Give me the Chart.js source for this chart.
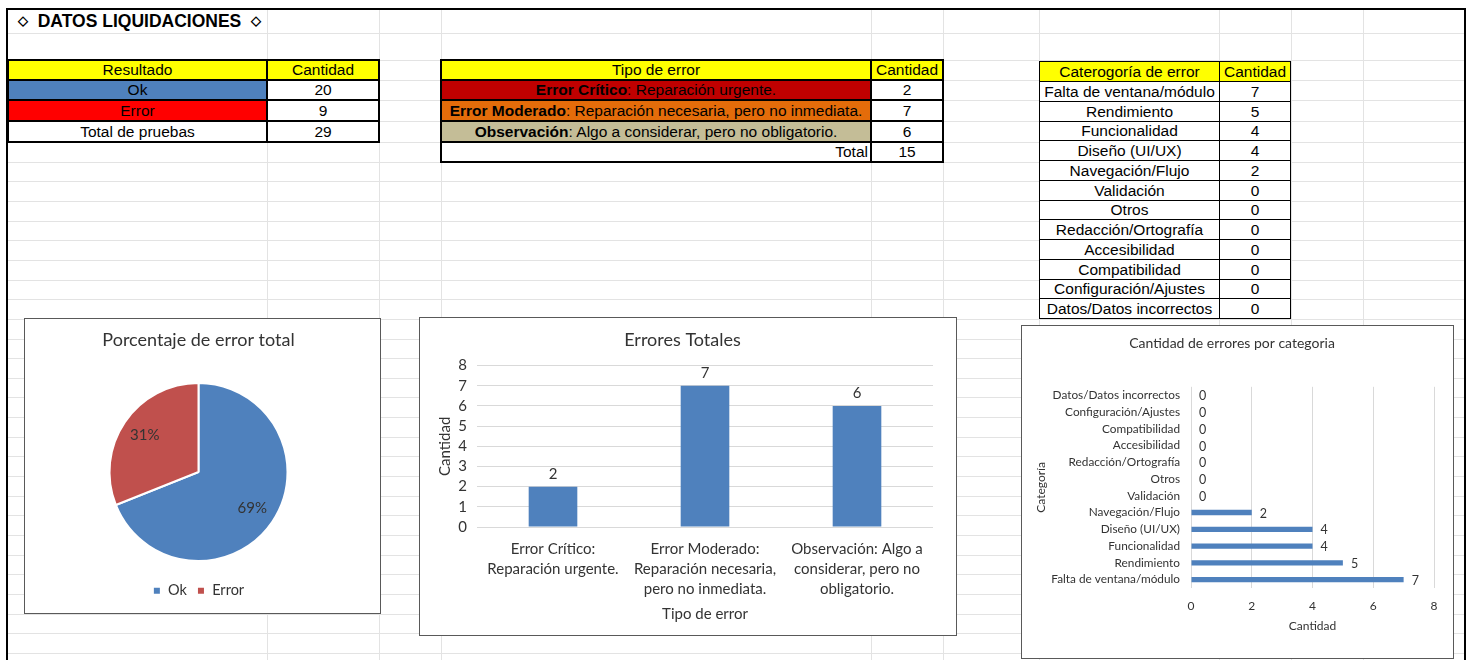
<!DOCTYPE html>
<html>
<head>
<meta charset="utf-8">
<script src="https://cdn.jsdelivr.net/npm/chart.js@4.4.0/dist/chart.umd.min.js"></script>
<style>
body{margin:0;width:1473px;height:660px;overflow:hidden;background:#fff;font-family:"Liberation Sans",Arial,sans-serif;}
#sheet{position:relative;width:1473px;height:660px;overflow:hidden;}
.gl{position:absolute;background:#e3e3e3;}
.c{position:absolute;box-sizing:border-box;border:2px solid #000;font-size:15.5px;line-height:16px;display:flex;align-items:center;justify-content:center;white-space:nowrap;color:#000;}
.thin{border-width:1px;}
.box{position:absolute;box-sizing:border-box;border:1px solid #595959;background:#fff;}
.box canvas{position:absolute;left:0;top:0;}
#frame{position:absolute;left:6px;top:8px;width:1460px;height:700px;box-sizing:border-box;border:2px solid #000;}
#title{position:absolute;left:18px;top:11px;font-weight:bold;font-size:17.5px;}
#title span{font-size:13px;position:relative;top:-2px;}
</style>
</head>
<body>
<div id="sheet">
  <div id="frame"></div>
  <div id="title"><span>◇</span>&nbsp; DATOS LIQUIDACIONES &nbsp;<span>◇</span></div>
  <div class="box" style="left:24px;top:318px;width:357px;height:296px;"><canvas id="pieChart" width="355" height="294"></canvas></div>
  <div class="box" style="left:419px;top:317px;width:538px;height:319px;"><canvas id="barChart" width="536" height="317"></canvas></div>
  <div class="box" style="left:1021px;top:325px;width:433px;height:334px;"><canvas id="catChart" width="431" height="332"></canvas></div>
</div>
<script>
// datos de las tablas
const resultadoLabels = ['Ok', 'Error'];
const resultadoValues = [20, 9];
const resultadoColors = ['#4F81BD', '#FF0000'];

const tipoNombres = ['Error Crítico', 'Error Moderado', 'Observación'];
const tipoTextos = ['Reparación urgente.', 'Reparación necesaria, pero no inmediata.', 'Algo a considerar, pero no obligatorio.'];
const tipoValues = [2, 7, 6];
const tipoColors = ['#C00000', '#E46C0A', '#C4BD97'];
const tipoTicks = [
    ['Error Crítico:', 'Reparación urgente.'],
    ['Error Moderado:', 'Reparación necesaria,', 'pero no inmediata.'],
    ['Observación: Algo a', 'considerar, pero no', 'obligatorio.']
];

const categoriaLabels = ['Falta de ventana/módulo', 'Rendimiento', 'Funcionalidad', 'Diseño (UI/UX)', 'Navegación/Flujo',
    'Validación', 'Otros', 'Redacción/Ortografía', 'Accesibilidad', 'Compatibilidad', 'Configuración/Ajustes', 'Datos/Datos incorrectos'];
const categoriaValues = [7, 5, 4, 4, 2, 0, 0, 0, 0, 0, 0, 0];

const sheet = document.getElementById('sheet');

// lineas de la hoja
let colX = [267, 379, 441, 871, 943, 1039, 1219, 1291, 1363];
let rowY = [33, 60, 80, 100, 121, 142];
for (let k = 1; k <= 27; k++) rowY.push(Math.round(142 + k * 19.65));
colX.forEach((x) => {
    let d = document.createElement('div');
    d.className = 'gl';
    d.style.cssText = `left:${x}px;top:8px;width:1px;height:660px;`;
    sheet.insertBefore(d, sheet.firstChild);
});
rowY.forEach((y) => {
    let d = document.createElement('div');
    d.className = 'gl';
    d.style.cssText = `left:7px;top:${y}px;width:1458px;height:1px;`;
    sheet.insertBefore(d, sheet.firstChild);
});

function cell(x0, y0, x1, y1, html, bg, extra) {
    let d = document.createElement('div');
    d.className = 'c' + (extra && extra.thin ? ' thin' : '');
    let b = extra && extra.thin ? 0 : 1;
    d.style.left = (x0 - b) + 'px';
    d.style.top = (y0 - b) + 'px';
    d.style.width = (x1 - x0 + 2 * b + (b ? 0 : 1)) + 'px';
    d.style.height = (y1 - y0 + 2 * b + (b ? 0 : 1)) + 'px';
    d.style.background = bg || '#fff';
    if (extra && extra.align) { d.style.justifyContent = extra.align; d.style.paddingRight = '2px'; }
    d.innerHTML = html;
    sheet.appendChild(d);
}

// tabla 1
const t1Rows = [60, 80, 100, 121, 142];
cell(8, 60, 267, 80, 'Resultado', '#FFFF00');
cell(267, 60, 379, 80, 'Cantidad', '#FFFF00');
resultadoLabels.forEach((l, i) => {
    cell(8, t1Rows[i + 1], 267, t1Rows[i + 2], l, resultadoColors[i]);
    cell(267, t1Rows[i + 1], 379, t1Rows[i + 2], resultadoValues[i]);
});
cell(8, 121, 267, 142, 'Total de pruebas');
cell(267, 121, 379, 142, resultadoValues.reduce((a, b) => a + b, 0));

// tabla 2
const t2Rows = [60, 80, 100, 121, 142, 162];
cell(441, 60, 871, 80, 'Tipo de error', '#FFFF00');
cell(871, 60, 943, 80, 'Cantidad', '#FFFF00');
tipoNombres.forEach((n, i) => {
    cell(441, t2Rows[i + 1], 871, t2Rows[i + 2], `<b>${n}</b>: ${tipoTextos[i]}`, tipoColors[i]);
    cell(871, t2Rows[i + 1], 943, t2Rows[i + 2], tipoValues[i]);
});
cell(441, 142, 871, 162, 'Total', '#fff', { align: 'flex-end' });
cell(871, 142, 943, 162, tipoValues.reduce((a, b) => a + b, 0));

// tabla 3
let t3Rows = [61, 81];
for (let k = 1; k <= 12; k++) t3Rows.push(Math.round(81 + k * 19.75));
cell(1039, 61, 1219, 81, 'Caterogoría de error', '#FFFF00', { thin: true });
cell(1219, 61, 1290, 81, 'Cantidad', '#FFFF00', { thin: true });
categoriaLabels.forEach((l, i) => {
    cell(1039, t3Rows[i + 1], 1219, t3Rows[i + 2], l, '#fff', { thin: true });
    cell(1219, t3Rows[i + 1], 1290, t3Rows[i + 2], categoriaValues[i], '#fff', { thin: true });
});

// etiquetas de valores
const valueLabels = {
    id: 'valueLabels',
    afterDatasetsDraw(chart, args, opts) {
        if (!opts.mode) return;
        let ctx = chart.ctx;
        ctx.save();
        ctx.fillStyle = '#333';
        ctx.font = opts.size + 'px Lato';
        chart.data.datasets.forEach((ds, i) => {
            let total = ds.data.reduce((a, b) => a + b, 0);
            chart.getDatasetMeta(i).data.forEach((el, j) => {
                let v = ds.data[j];
                if (opts.mode == 'pct') {
                    let a = (el.startAngle + el.endAngle) / 2;
                    let r = el.outerRadius * 0.73;
                    ctx.textAlign = 'center';
                    ctx.textBaseline = 'middle';
                    ctx.fillText(Math.round(v / total * 100) + '%', el.x + Math.cos(a) * r, el.y + Math.sin(a) * r);
                } else if (opts.mode == 'top') {
                    ctx.textAlign = 'center';
                    ctx.textBaseline = 'bottom';
                    ctx.fillText(v, el.x, el.y - 5);
                } else {
                    ctx.textAlign = 'left';
                    ctx.textBaseline = 'middle';
                    ctx.fillText(v, el.x + 8, el.y + 1);
                }
            });
        });
        ctx.restore();
    }
};

const txt = '#333';
const grid = '#d9d9d9';

new Chart(document.getElementById('pieChart'), {
    type: 'pie',
    data: {
        labels: resultadoLabels,
        datasets: [{
            data: resultadoValues,
            backgroundColor: ['#4F81BD', '#C0504D'],
            borderColor: '#fff',
            borderWidth: 2,
            radius: 89
        }]
    },
    options: {
        responsive: false,
        animation: false,
        layout: { padding: { bottom: 5, right: 8 } },
        plugins: {
            title: { display: true, text: 'Porcentaje de error total', color: txt, font: { family: 'Lato', size: 18, weight: 'normal' }, padding: { top: 10, bottom: 20 } },
            legend: { position: 'bottom', labels: { boxWidth: 8, boxHeight: 8, color: txt, font: { family: 'Lato', size: 14.5 } } },
            tooltip: { enabled: false },
            valueLabels: { mode: 'pct', size: 15 }
        }
    },
    plugins: [valueLabels]
});

new Chart(document.getElementById('barChart'), {
    type: 'bar',
    data: {
        labels: tipoTicks,
        datasets: [{
            data: tipoValues,
            backgroundColor: '#4F81BD',
            categoryPercentage: 0.8,
            barPercentage: 0.4
        }]
    },
    options: {
        responsive: false,
        animation: false,
        layout: { padding: { left: 12, right: 23, bottom: 8 } },
        scales: {
            x: {
                grid: { display: false },
                border: { display: false },
                ticks: { color: txt, font: { family: 'Lato', size: 15, lineHeight: 1.33 }, maxRotation: 0, autoSkip: false, padding: 4 },
                title: { display: true, text: 'Tipo de error', color: txt, font: { family: 'Lato', size: 15 } },
                afterFit: (s) => { s.height = 100; }
            },
            y: {
                min: 0, max: 8,
                ticks: { stepSize: 1, autoSkip: false, color: txt, font: { family: 'Lato', size: 15 }, padding: 10 },
                grid: { color: grid, drawTicks: false },
                border: { display: false },
                title: { display: true, text: 'Cantidad', color: txt, font: { family: 'Lato', size: 15 } },
                afterFit: (s) => { s.width = 45; }
            }
        },
        plugins: {
            title: { display: true, text: 'Errores Totales', color: txt, font: { family: 'Lato', size: 18, weight: 'normal' }, padding: { top: 11, bottom: 15 } },
            legend: { display: false },
            tooltip: { enabled: false },
            valueLabels: { mode: 'top', size: 15 }
        }
    },
    plugins: [valueLabels]
});

new Chart(document.getElementById('catChart'), {
    type: 'bar',
    data: {
        labels: categoriaLabels,
        datasets: [{
            data: categoriaValues,
            backgroundColor: '#4F81BD',
            categoryPercentage: 0.8,
            barPercentage: 0.4
        }]
    },
    options: {
        indexAxis: 'y',
        responsive: false,
        animation: false,
        layout: { padding: { left: 8, right: 19, bottom: 21 } },
        scales: {
            y: {
                reverse: true,
                grid: { display: false },
                border: { display: false },
                ticks: { color: txt, font: { family: 'Lato', size: 11.8 }, autoSkip: false, padding: 3 },
                title: { display: true, text: 'Categoría', color: txt, font: { family: 'Lato', size: 12 } },
                afterFit: (s) => { s.width = 161; }
            },
            x: {
                min: 0, max: 8,
                ticks: { stepSize: 2, color: txt, font: { family: 'Lato', size: 12 }, padding: 11 },
                grid: { color: grid, drawTicks: false },
                border: { display: false },
                title: { display: true, text: 'Cantidad', color: txt, font: { family: 'Lato', size: 12 }, padding: { top: 4 } },
                afterFit: (s) => { s.height = 49; }
            }
        },
        plugins: {
            title: { display: true, text: 'Cantidad de errores por categoria', color: txt, font: { family: 'Lato', size: 14, weight: 'normal' }, padding: { top: 9, bottom: 35 } },
            legend: { display: false },
            tooltip: { enabled: false },
            valueLabels: { mode: 'right', size: 12.5 }
        }
    },
    plugins: [valueLabels]
});
</script>
</body>
</html>
